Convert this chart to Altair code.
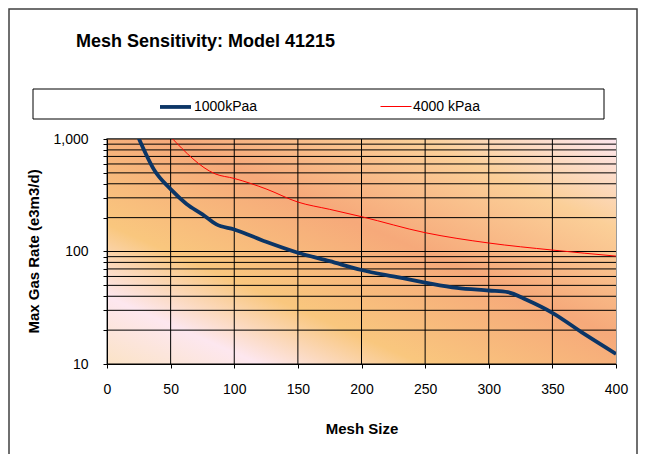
import altair as alt
import pandas as pd

# ---- data ----
series_names = ["1000kPaa", "4000 kPaa"]
series_colors = ["#0b3566", "#ff0000"]

mesh_1000 = [25, 37.5, 50, 62.5, 75, 86, 100, 125, 150, 175, 200, 225, 250, 275, 300, 315, 330, 350, 375, 400]
rate_1000 = [1010, 521, 358, 265, 214, 174, 157, 122, 97.5, 82, 68.5, 60, 53, 47.5, 45, 43.5, 37, 28.5, 18.5, 12.3]

mesh_4000 = [50, 85, 100, 125, 150, 175, 200, 250, 300, 350, 400]
rate_4000 = [1045, 490, 446, 360, 275, 237, 204, 147, 119, 103, 91]

x_ticks = [0, 50, 100, 150, 200, 250, 300, 350, 400]
x_grid = [50, 100, 150, 200, 250, 300, 350]
y_ticks = [10, 20, 30, 40, 50, 60, 70, 80, 90, 100, 200, 300, 400, 500, 600, 700, 800, 900, 1000]
y_labelled = [10, 100, 1000]

FONT = "Liberation Sans"

df = pd.concat([
    pd.DataFrame({"mesh": mesh_1000, "rate": rate_1000, "series": series_names[0]}),
    pd.DataFrame({"mesh": mesh_4000, "rate": rate_4000, "series": series_names[1]}),
], ignore_index=True)

xs = alt.Scale(domain=[x_ticks[0], x_ticks[-1]], nice=False, zero=False)
ys = alt.Scale(type="log", domain=[y_ticks[0], y_ticks[-1]], nice=False)

x_axis = alt.Axis(
    values=x_ticks, title="Mesh Size", grid=False, zindex=1,
    labelFont=FONT, labelFontSize=14, labelColor="black", labelPadding=14,
    labelFlush=False, labelOverlap=False,
    tickSize=4, tickColor="black", domainColor="black",
    titleFont=FONT, titleFontSize=15, titleFontWeight="bold", titleColor="black",
    titleY=64, titleBaseline="middle",
)
y_axis = alt.Axis(
    values=y_ticks, title="Max Gas Rate (e3m3/d)", grid=False, zindex=1,
    labelExpr="indexof(" + str(y_labelled) + ", datum.value) >= 0 ? format(datum.value, ',') : ''",
    labelFont=FONT, labelFontSize=14, labelColor="black", labelPadding=15,
    labelOverlap=False,
    tickSize=4, tickColor="black", domainColor="black",
    titleFont=FONT, titleFontSize=15, titleFontWeight="bold", titleColor="black",
    titleX=-74, titleY=112, titleAngle=270, titleBaseline="middle", titleAlign="center",
)

def X(field="mesh"):
    return alt.X(f"{field}:Q", scale=xs, axis=x_axis)

def Y(field="rate"):
    return alt.Y(f"{field}:Q", scale=ys, axis=y_axis)

gradient = alt.Gradient(
    gradient="linear", x1=0, y1=1, x2=1, y2=0,
    stops=[
        alt.GradientStop(color="#fbe3c6", offset=0.0),
        alt.GradientStop(color="#fde7ef", offset=0.15),
        alt.GradientStop(color="#f9c77e", offset=0.31),
        alt.GradientStop(color="#f6a97a", offset=0.56),
        alt.GradientStop(color="#fbcf98", offset=0.8),
        alt.GradientStop(color="#fde6ee", offset=1.0),
    ],
)

bg = alt.Chart(pd.DataFrame({"mesh": [x_ticks[0]], "mesh2": [x_ticks[-1]],
                             "rate": [y_ticks[0]], "rate2": [y_ticks[-1]]})).mark_rect(
    fill=gradient
).encode(x=X(), x2="mesh2:Q", y=Y(), y2="rate2:Q")

hgrid = alt.Chart(pd.DataFrame({"rate": y_ticks})).mark_rule(
    color="black", strokeWidth=1
).encode(y=Y())

vgrid = alt.Chart(pd.DataFrame({"mesh": x_grid})).mark_rule(
    color="black", strokeWidth=1
).encode(x=X())

leg = alt.Legend(
    orient="none", legendX=51, legendY=-50, direction="horizontal", title=None,
    symbolType="stroke", symbolSize=961, labelFont=FONT, labelFontSize=14,
    labelColor="black", columnPadding=120, labelOffset=1, padding=0,
)

lines = alt.Chart(df).mark_line(clip=True, interpolate="monotone").encode(
    x=X(), y=Y(),
    color=alt.Color("series:N", scale=alt.Scale(domain=series_names, range=series_colors), legend=leg),
    strokeWidth=alt.StrokeWidth("series:N", scale=alt.Scale(domain=series_names, range=[3.8, 1]), legend=leg),
)

one = pd.DataFrame({"k": [0]})
legend_frame = alt.Chart(one).mark_rect(fill="white", stroke="black", strokeWidth=1).encode(
    x=alt.value(-74), x2=alt.value(497), y=alt.value(-50), y2=alt.value(-20)
)
outer_frame = alt.Chart(one).mark_rect(fill=None, stroke="#404040", strokeWidth=1.5).encode(
    x=alt.value(-98), x2=alt.value(530), y=alt.value(-130), y2=alt.value(340)
)

chart = alt.layer(outer_frame, legend_frame, bg, hgrid, vgrid, lines).properties(
    width=509, height=225,
    autosize=alt.AutoSizeParams(type="none"),
    padding={"left": 99, "top": 131, "right": 22, "bottom": 90},
    background="white",
    title=alt.TitleParams(
        "Mesh Sensitivity: Model 41215", anchor="start", frame="group",
        font=FONT, fontSize=18, fontWeight="bold", color="black",
        baseline="alphabetic", dx=-31, dy=61,
    ),
).configure_view(stroke="#9a9a9a", strokeWidth=2)

chart.save("out.html", embed_options={"renderer": "svg", "actions": False})
